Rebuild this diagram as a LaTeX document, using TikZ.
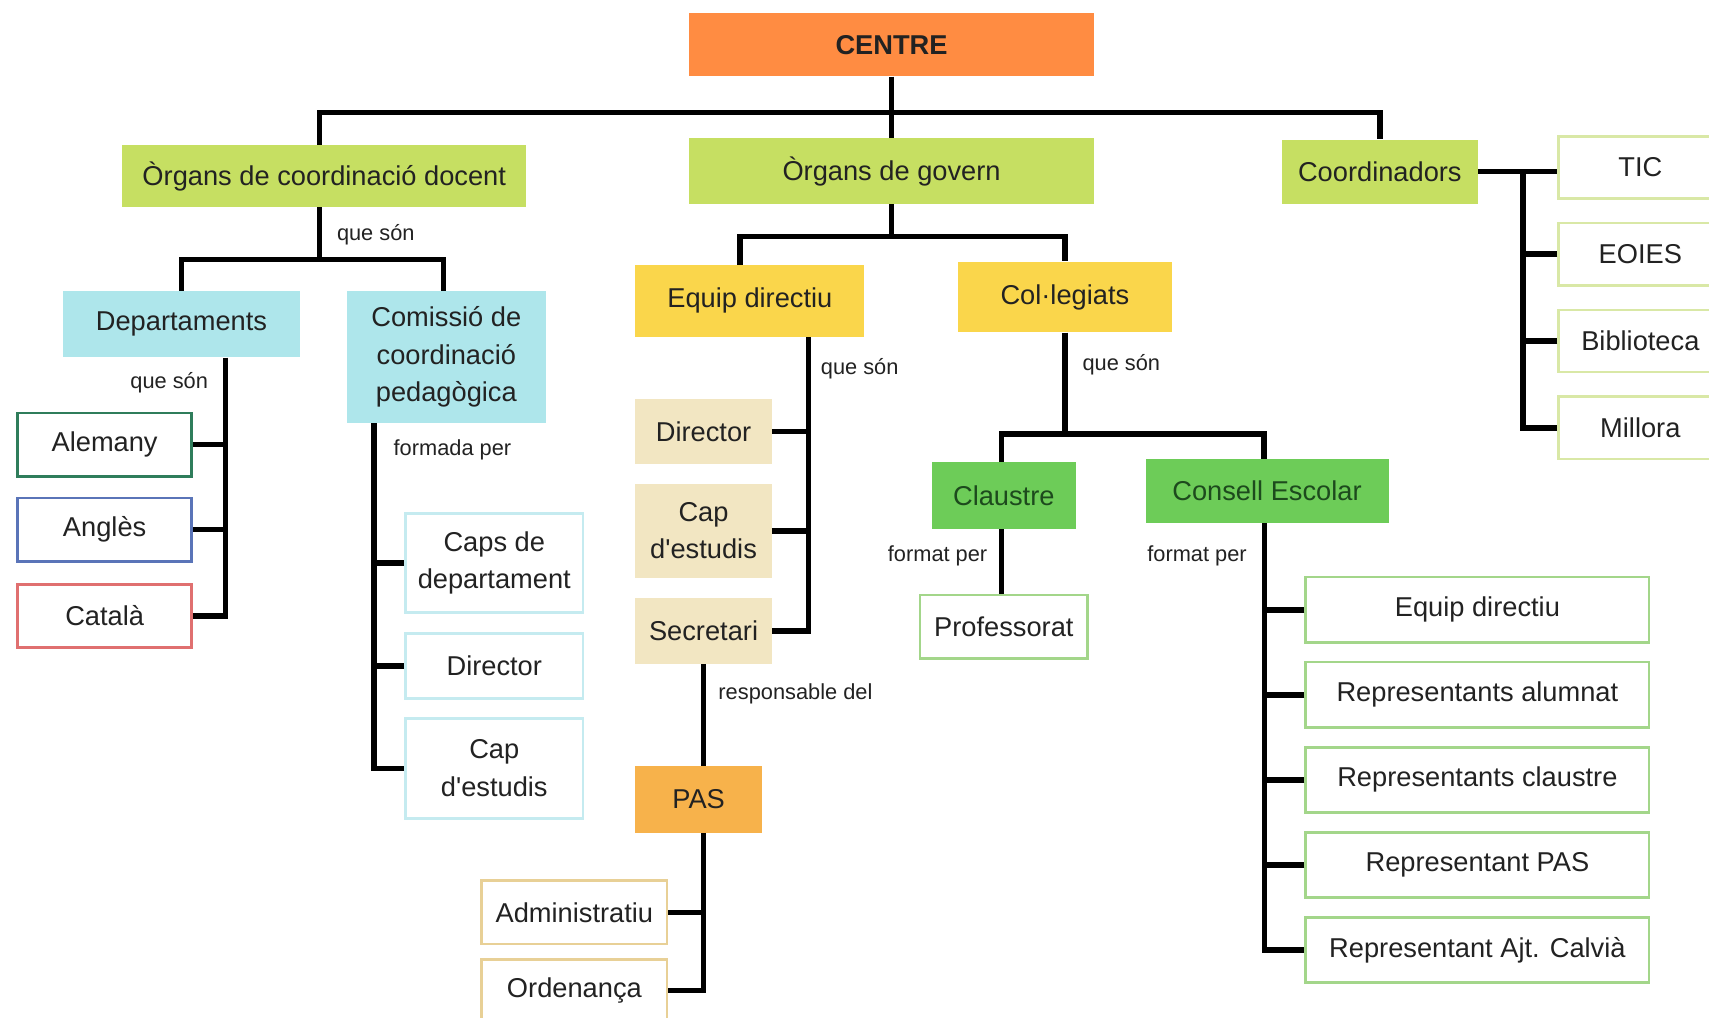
\documentclass[tikz,border=0pt]{standalone}
\usepackage{fontspec}
\setmainfont{Liberation Sans}
\usetikzlibrary{calc}

% 颜色
\definecolor{corange}{HTML}{FF8C42}
\definecolor{clime}{HTML}{C6DF62}
\definecolor{ccyan}{HTML}{AEE6EB}
\definecolor{cyellow}{HTML}{FAD64B}
\definecolor{cbeige}{HTML}{F2E6C2}
\definecolor{cpas}{HTML}{F7B24B}
\definecolor{cgreen}{HTML}{6DCC58}
\definecolor{ctext}{HTML}{222222}
\definecolor{cgtext}{HTML}{1D4A1D}
\definecolor{cline}{HTML}{D9E8A6}
\definecolor{cdkgreen}{HTML}{2F7D5B}
\definecolor{cblue}{HTML}{5A74B8}
\definecolor{cred}{HTML}{E07070}
\definecolor{clcyan}{HTML}{C5EBF0}
\definecolor{ctan}{HTML}{E8D096}
\definecolor{cpgreen}{HTML}{A3D68A}

% 样式
\tikzset{
  box/.style={rectangle, inner sep=0pt, align=center, text=ctext,
    font=\fontsize{25}{34.5}\selectfont},
  fillbox/.style={box, fill=#1},
  linebox/.style={box, draw=#1, line width=2.5pt, fill=white},
  wh/.style 2 args={minimum width=#1, minimum height=#2},
  lbl/.style={font=\fontsize{20}{24}\selectfont, text=ctext, inner sep=0pt},
  conn/.style={line width=5pt},
}

\begin{document}
\begin{tikzpicture}[x=1pt,y=-1pt]

\fill[white] (0,0) rectangle (1568,934);
\useasboundingbox (0,0) rectangle (1568,934);

% 顶层
\node[fillbox=corange, wh={372}{58}, font=\bfseries\fontsize{25}{30}\selectfont] (centre) at (818,41) {CENTRE};
\node[fillbox=clime, wh={371}{57}] (docent) at (297.5,161.5) {Òrgans de coordinació docent};
\node[fillbox=clime, wh={372}{60}] (govern) at (818,157) {Òrgans de govern};
\node[fillbox=clime, wh={180}{59}] (coord) at (1266,157.5) {Coordinadors};

% 定义变量\kstep为列表间距
\pgfmathsetmacro{\kstep}{79.7}
\foreach \nm/\txt/\i in {tic/TIC/0, eoies/EOIES/1, biblio/Biblioteca/2, millora/Millora/3} {
    \node[linebox=cline, wh={150}{57}] (\nm) at (1505,153.5+\i*\kstep) {\txt};
}

% 协调机构
\node[fillbox=ccyan, wh={217}{61}] (depts) at (166.5,297.5) {Departaments};
\node[fillbox=ccyan, wh={183}{121}] (comissio) at (409.5,327.5) {Comissió de\\coordinació\\pedagògica};

\foreach \nm/\txt/\ypos/\col in {alemany/Alemany/408/cdkgreen, angles/Anglès/486/cblue, catala/Català/565/cred} {
    \node[linebox=\col, wh={160}{58}] (\nm) at (96,\ypos) {\txt};
}

\node[linebox=clcyan, wh={163}{91}] (caps) at (453.5,516.5) {Caps de\\departament};
\node[linebox=clcyan, wh={163}{60}] (cdir) at (453.5,611) {Director};
\node[linebox=clcyan, wh={163}{92}] (ccap) at (453.5,705) {Cap\\d\textquotesingle estudis};

% 管理机构
\node[fillbox=cyellow, wh={210}{66}] (equip) at (688,276) {Equip directiu};
\node[fillbox=cyellow, wh={196}{65}] (colleg) at (977,272.5) {Col·legiats};
\node[fillbox=cbeige, wh={125}{60}] (director) at (645.5,396) {Director};
\node[fillbox=cbeige, wh={125}{86}] (capest) at (645.5,487) {Cap\\d\textquotesingle estudis};
\node[fillbox=cbeige, wh={125}{60}] (secretari) at (645.5,579) {Secretari};
\node[fillbox=cpas, wh={116}{61}] (pas) at (641,733.5) {PAS};
\node[linebox=ctan, wh={170}{58}] (admin) at (527,837) {Administratiu};
\node[linebox=ctan, wh={170}{58}] (orden) at (527,909) {Ordenança};

\node[fillbox=cgreen, wh={132}{61}, text=cgtext] (claustre) at (921,454.5) {Claustre};
\node[fillbox=cgreen, wh={223}{59}, text=cgtext] (consell) at (1162.5,450.5) {Consell Escolar};
\node[linebox=cpgreen, wh={154}{58}] (prof) at (921,575) {Professorat};

\pgfmathsetmacro{\cstep}{78}
\foreach \nm/\txt/\i in {mequip/Equip directiu/0, malum/Representants alumnat/1, mclau/Representants claustre/2, mpas/Representant PAS/3, majt/Representant Ajt. Calvià/4} {
    \node[linebox=cpgreen, wh={315}{60}] (\nm) at (1355.5,559.5+\i*\cstep) {\txt};
}

% 连接线
\coordinate (bar1) at (818,103);
\draw[conn] (centre.south) -- (govern.north);
\draw[conn] ([xshift=-4.5]docent.north) |- (bar1) -| (coord.north);

\coordinate (bar2) at (293,238);
\draw[conn] ([xshift=-4.5]docent.south) -- (bar2);
\draw[conn] (depts.north) |- (bar2) -| ([xshift=-2.5]comissio.north);
\node[lbl, anchor=west] (qs1) at (309,215) {que són};

\coordinate (dv) at ([xshift=40.5]depts.south);
\draw[conn] (dv) |- (catala.east);
\foreach \nm in {alemany,angles} {
    \draw[conn] (\nm.east) -- (\nm.east -| dv);
}
\node[lbl, anchor=east] (qs2) at (191,351) {que són};

\coordinate (cv) at ([xshift=-66.5]comissio.south);
\draw[conn] (cv) |- (ccap.west);
\foreach \nm in {caps,cdir} {
    \draw[conn] (\nm.west) -- (\nm.west -| cv);
}
\node[lbl, anchor=west] (fp1) at (361,413) {formada per};

\coordinate (bar3) at (818,217);
\draw[conn] (govern.south) -- (bar3);
\draw[conn] ([xshift=-9]equip.north) |- (bar3) -| (colleg.north);

\coordinate (ev) at ([xshift=54]equip.south);
\draw[conn] (ev) |- (secretari.east);
\foreach \nm in {director,capest} {
    \draw[conn] (\nm.east) -- (\nm.east -| ev);
}
\node[lbl, anchor=west] (qs3) at (753,338) {que són};

\draw[conn] (secretari.south) -- (secretari.south |- pas.north);
\node[lbl, anchor=west] (rd) at (659,637) {responsable del};
\coordinate (pv) at (pas.south -| secretari.south);
\draw[conn] (pv) |- (orden.east);
\draw[conn] (admin.east) -- (admin.east -| pv);

\coordinate (bar4) at (977,398);
\draw[conn] (colleg.south) -- (bar4);
\draw[conn] ([xshift=-2]claustre.north) |- (bar4) -| ([xshift=-3]consell.north);
\node[lbl, anchor=west] (qs4) at (993,335) {que són};

\draw[conn] ([xshift=-2]claustre.south) -- ([xshift=-2]prof.north);
\node[lbl, anchor=east] (fp2) at (906,510) {format per};

\coordinate (sv) at ([xshift=-2.5]consell.south);
\draw[conn] (sv) |- (majt.west);
\foreach \nm in {mequip,malum,mclau,mpas} {
    \draw[conn] (\nm.west) -- (\nm.west -| sv);
}
\node[lbl, anchor=east] (fp3) at (1144,510) {format per};

\coordinate (kv) at ([xshift=41]coord.east);
\draw[conn] (coord.east) -- (coord.east -| tic.west);
\draw[conn] (kv) |- (millora.west);
\foreach \nm in {eoies,biblio} {
    \draw[conn] (\nm.west) -- (\nm.west -| kv);
}

\end{tikzpicture}
\end{document}
